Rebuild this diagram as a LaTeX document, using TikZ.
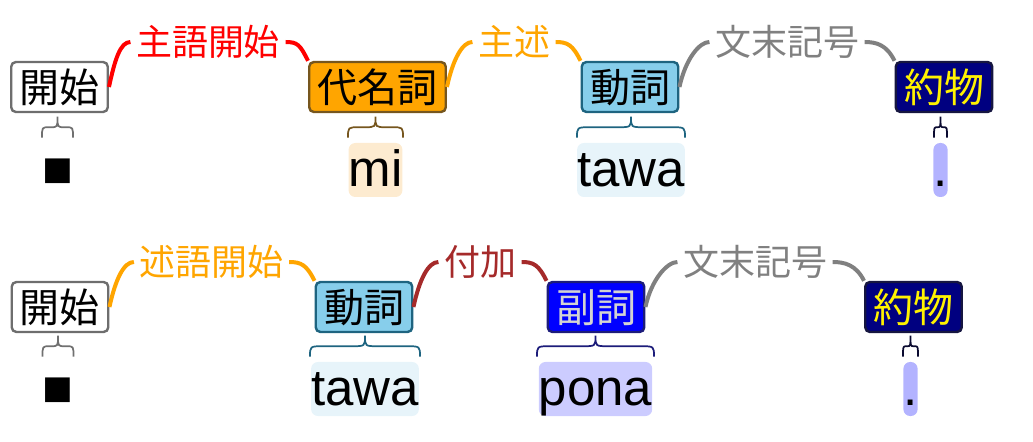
\documentclass[tikz,border=0pt]{standalone}
\usepackage{fontspec}
\setmainfont{Liberation Sans}
\newfontfamily\jp{Noto Sans CJK JP}
\usetikzlibrary{calc}
\definecolor{gborder}{HTML}{6E6E6E}
\definecolor{brn}{HTML}{76561E}
\definecolor{orng}{HTML}{FFA500}
\definecolor{tealb}{HTML}{1E6480}
\definecolor{sky}{HTML}{87CEEB}
\definecolor{nvb}{HTML}{161640}
\definecolor{navyf}{HTML}{000080}
\definecolor{bluf}{HTML}{0000FF}
\definecolor{blub}{HTML}{1C1C7A}
\definecolor{ltg}{HTML}{D3D3D3}
\definecolor{mibg}{HTML}{FDEBD0}
\definecolor{tawabg}{HTML}{E7F4FA}
\definecolor{ponabg}{HTML}{CCCCFF}
\definecolor{dotbg}{HTML}{B3B3FF}
\definecolor{relred}{HTML}{FF0000}
\definecolor{relorg}{HTML}{FFA500}
\definecolor{relgray}{HTML}{808080}
\definecolor{relbrn}{HTML}{A52A2A}
\definecolor{bgray}{HTML}{707070}
\definecolor{bdark}{HTML}{0A0A30}
\tikzset{
  pics/ubrace/.style 2 args={code={
    \draw[line width=1.3pt] (-#1,0) .. controls (-#1,-10.5) .. (-#1+#2,-10.5) -- (-#2,-10.5)
      .. controls (0,-10.5) .. (0,-21) .. controls (0,-10.5) .. (#2,-10.5) -- (#1-#2,-10.5)
      .. controls (#1,-10.5) .. (#1,0);
  }}
}
\begin{document}
\begin{tikzpicture}[x=0.75pt,y=-0.75pt,
  cat/.style={draw, rounded corners=3.5pt, line width=1.8pt, font=\jp\fontsize{30}{36}\selectfont,
    inner xsep=6.2pt, inner ysep=0pt, minimum height=37.5pt, text height=26.4pt, text depth=3.6pt},
  lab/.style={font=\jp\fontsize{27}{32}\selectfont, inner xsep=4pt, inner ysep=0pt,
    text height=23.8pt, text depth=3.2pt},
  tok/.style={font=\fontsize{38.25}{46}\selectfont, inner sep=0pt, text height=33pt,
    text depth=7.5pt, rounded corners=5pt},
  rel/.style={line width=3pt},
]
\useasboundingbox (0,0) rectangle (1033,442);

% ---------- row 1 ----------
\node[cat, draw=gborder, fill=white] (s1) at (59.5,87) {開始};
\node[cat, draw=brn, fill=orng] (p1) at (377.5,87) {代名詞};
\node[cat, draw=tealb, fill=sky] (v1) at (630,87) {動詞};
\node[cat, draw=nvb, fill=navyf, text=yellow] (e1) at (944,87) {約物};

\node[tok] (t1a) at (57.5,170) {■};
\node[tok, fill=mibg] (t1b) at (375.5,170) {mi};
\node[tok, fill=tawabg] (t1c) at (631,170) {tawa};
\node[tok, fill=dotbg] (t1d) at (940.5,170) {.};

\node[lab, text=relred] (l1a) at (208,42) {主語開始};
\node[lab, text=relorg] (l1b) at (514,42) {主述};
\node[lab, text=relgray] (l1c) at (787,42) {文末記号};

\draw[rel, relred] (s1.east) .. controls +(6,-28) and +(-10,0) .. (l1a.west);
\draw[rel, relred] (l1a.east) .. controls +(12,0) and +(-8,-16) .. (p1.north west);
\draw[rel, relorg] (p1.east) .. controls +(6,-28) and +(-10,0) .. (l1b.west);
\draw[rel, relorg] (l1b.east) .. controls +(12,0) and +(-8,-16) .. (v1.north west);
\draw[rel, relgray] (v1.east) .. controls +(6,-28) and +(-10,0) .. (l1c.west);
\draw[rel, relgray] (l1c.east) .. controls +(12,0) and +(-8,-16) .. (e1.north west);

\pic[color=bgray] at ($(t1a.north)+(0,-5)$) {ubrace={15.5}{7}};
\pic[color=brn] at ($(t1b.north)+(0,-5)$) {ubrace={27.5}{11}};
\pic[color=tealb] at ($(t1c.north)+(0,-5)$) {ubrace={54}{13}};
\pic[color=bdark] at ($(t1d.north)+(0,-5)$) {ubrace={6.5}{3.2}};

% ---------- row 2 ----------
\node[cat, draw=gborder, fill=white] (s2) at (60,307) {開始};
\node[cat, draw=tealb, fill=sky] (v2) at (364,307) {動詞};
\node[cat, draw=blub, fill=bluf, text=ltg] (a2) at (596,307) {副詞};
\node[cat, draw=nvb, fill=navyf, text=yellow] (e2) at (913.5,307) {約物};

\node[tok] (t2a) at (58,389) {■};
\node[tok, fill=tawabg] (t2b) at (365,389) {tawa};
\node[tok, fill=ponabg] (t2c) at (595.5,389) {pona};
\node[tok, fill=dotbg] (t2d) at (910.5,389) {.};

\node[lab, text=relorg] (l2a) at (211.5,262) {述語開始};
\node[lab, text=relbrn] (l2b) at (480,262) {付加};
\node[lab, text=relgray] (l2c) at (755,262) {文末記号};

\draw[rel, relorg] (s2.east) .. controls +(6,-28) and +(-10,0) .. (l2a.west);
\draw[rel, relorg] (l2a.east) .. controls +(12,0) and +(-8,-16) .. (v2.north west);
\draw[rel, relbrn] (v2.east) .. controls +(6,-28) and +(-10,0) .. (l2b.west);
\draw[rel, relbrn] (l2b.east) .. controls +(12,0) and +(-8,-16) .. (a2.north west);
\draw[rel, relgray] (a2.east) .. controls +(6,-28) and +(-10,0) .. (l2c.west);
\draw[rel, relgray] (l2c.east) .. controls +(12,0) and +(-8,-16) .. (e2.north west);

\pic[color=bgray] at ($(t2a.north)+(0,-5)$) {ubrace={15.5}{7}};
\pic[color=tealb] at ($(t2b.north)+(0,-5)$) {ubrace={55}{13}};
\pic[color=blub] at ($(t2c.north)+(0,-5)$) {ubrace={58.5}{13}};
\pic[color=bdark] at ($(t2d.north)+(0,-5)$) {ubrace={7.5}{3.5}};
\end{tikzpicture}
\end{document}
